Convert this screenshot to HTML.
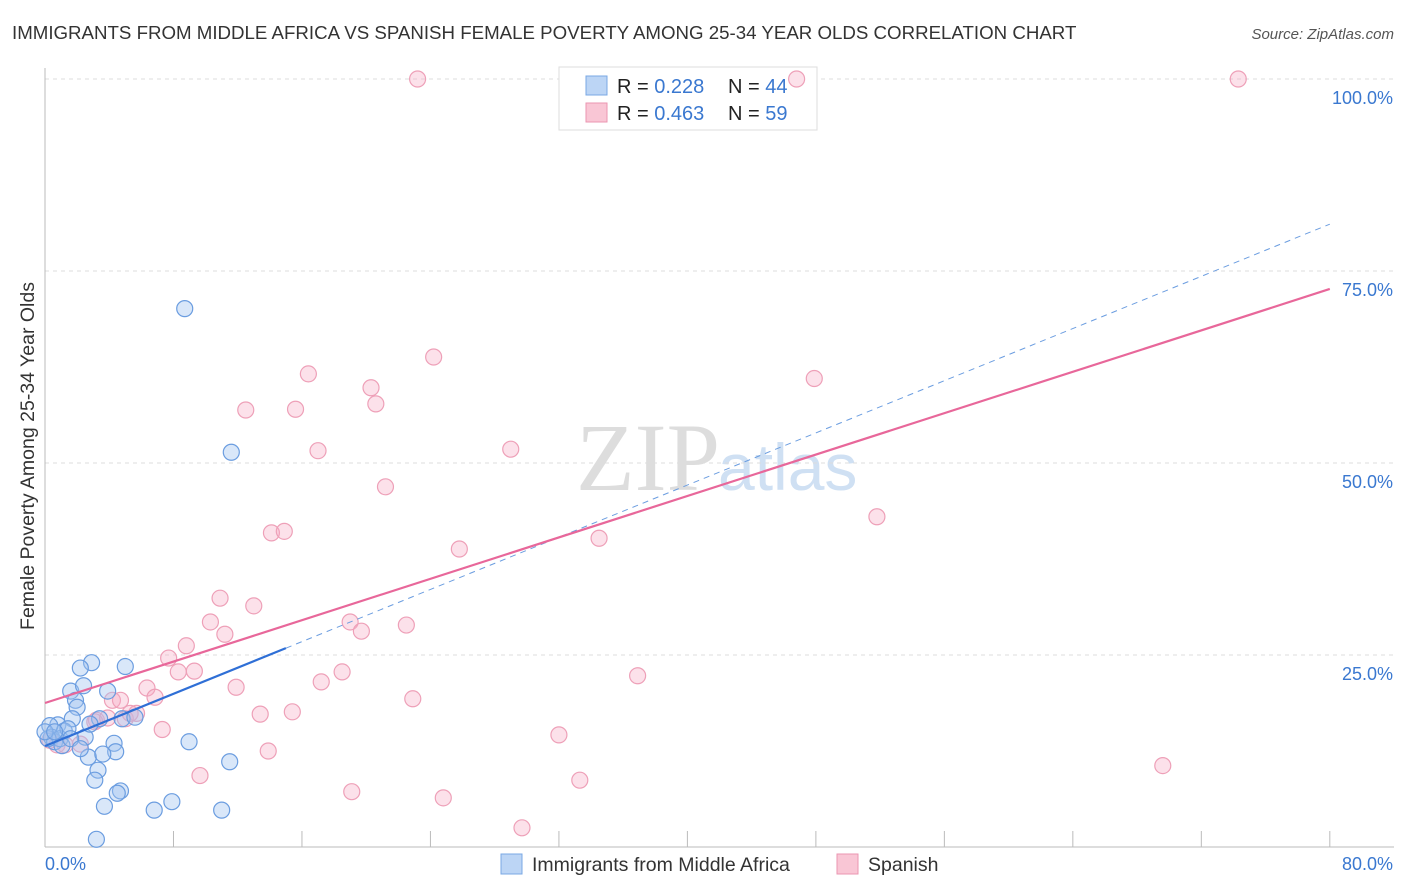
<!DOCTYPE html>
<html><head><meta charset="utf-8"><style>
body{margin:0;background:#fff;font-family:"Liberation Sans",sans-serif;}
#c{position:absolute;left:0;top:0;width:1406px;height:892px;}
</style></head><body>
<svg id="c" width="1406" height="892">
<text x="12" y="39" font-size="18.7" fill="#333">IMMIGRANTS FROM MIDDLE AFRICA VS SPANISH FEMALE POVERTY AMONG 25-34 YEAR OLDS CORRELATION CHART</text>
<text x="1394" y="39" font-size="15" fill="#555" font-style="italic" text-anchor="end">Source: ZipAtlas.com</text>
<text x="720" y="490" font-size="96" fill="#ddd" text-anchor="end" font-family="Liberation Serif,serif">ZIP</text>
<text x="718" y="490" font-size="66" fill="#cfe0f3">atlas</text>
<text transform="translate(34,456) rotate(-90)" font-size="19.5" fill="#333" text-anchor="middle">Female Poverty Among 25-34 Year Olds</text>
<g id="grid"></g>
<g>
<rect x="559" y="67" width="258" height="63" fill="#fff" stroke="#ddd"/>
<rect x="586" y="76" width="21" height="19" fill="#bcd5f5" stroke="#7aa8e4"/>
<rect x="586" y="103" width="21" height="19" fill="#f9c6d5" stroke="#eb96b1"/>
<text x="617" y="93" font-size="20" fill="#222">R = <tspan fill="#3a78d0">0.228</tspan></text>
<text x="728" y="93" font-size="20" fill="#222">N = <tspan fill="#3a78d0">44</tspan></text>
<text x="617" y="120" font-size="20" fill="#222">R = <tspan fill="#3a78d0">0.463</tspan></text>
<text x="728" y="120" font-size="20" fill="#222">N = <tspan fill="#3a78d0">59</tspan></text>
</g>
<g id="pts"></g><g id="lines"></g>
<g>
<rect x="501" y="854" width="21" height="20" fill="#bcd5f5" stroke="#7aa8e4"/>
<text x="532" y="871" font-size="19.5" fill="#333">Immigrants from Middle Africa</text>
<rect x="837" y="854" width="21" height="20" fill="#f9c6d5" stroke="#eb96b1"/>
<text x="868" y="871" font-size="19.5" fill="#333">Spanish</text>
</g>
</svg>
<script>
const yTicks=[25,50,75,100];
const xTickLabels=["0.0%","80.0%"];
const blueX=[8.7,11.6,2.9,5.0,2.2,1.6,2.4,3.9,1.9,2.0,1.7,3.4,4.8,5.6,0.8,1.2,0.3,0.4,0.6,2.5,4.3,4.4,2.7,3.6,3.3,3.1,4.7,4.5,3.7,6.8,7.9,11.0,11.5,8.97,3.2,0.93,0.19,1.06,1.43,2.8,0.0,0.6,1.6,2.2];
const blueY=[70.1,51.4,24.0,23.5,23.3,20.3,21.0,20.3,19.1,18.2,16.7,16.7,16.7,16.9,15.9,15.1,15.8,14.3,13.7,14.3,13.5,12.4,11.7,12.1,10.0,8.7,7.3,7.0,5.3,4.8,5.9,4.8,11.1,13.7,1.0,14.1,14.1,13.2,15.4,16.0,15.0,15.0,14.1,12.8];
const pinkX=[23.2,46.8,74.3,24.2,16.4,20.3,20.6,12.5,15.6,17.0,29.0,21.2,47.9,51.8,14.1,14.9,34.5,25.8,10.9,13.0,10.3,11.2,8.8,19.0,19.7,22.5,7.7,8.3,9.3,18.5,17.2,11.9,6.35,36.9,6.85,4.2,4.7,22.9,13.4,15.4,3.2,5.0,5.7,7.3,13.9,32.0,9.65,33.3,19.1,24.8,29.7,69.6,0.75,0.3,1.25,2.2,3.1,5.3,3.9];
const pinkY=[100,100,100,63.8,61.6,59.8,57.7,56.9,57.0,51.6,51.8,46.9,61.0,43.0,40.9,41.1,40.2,38.8,32.4,31.4,29.3,27.7,26.2,29.3,28.1,28.9,24.6,22.8,22.9,22.8,21.5,20.8,20.7,22.3,19.5,19.1,19.1,19.3,17.3,17.6,16.5,16.7,17.4,15.3,12.5,14.6,9.3,8.7,7.2,6.4,2.5,10.6,13.3,13.9,13.3,13.4,16.3,17.4,16.8];
const blueLine=[13.15,81.1], pinkLine=[18.75,72.66];
const X=v=>45+v*16.06, Y=v=>847-v*7.68;
const NS="http://www.w3.org/2000/svg";
function mk(t,a,p){const e=document.createElementNS(NS,t);for(const k in a)e.setAttribute(k,a[k]);p.appendChild(e);return e;}
const g=document.getElementById('grid');
for(const t of yTicks){const l=mk('line',{x1:45,x2:1394,y1:Y(t),y2:Y(t),stroke:'#ddd','stroke-dasharray':'4,4'},g);


const tx=mk('text',{x:1393,y:Y(t)+25,'font-size':18,fill:'#3a78d0','text-anchor':'end'},g);tx.textContent=t.toFixed(1)+'%';

}
const ax=mk('line',{x1:45,x2:45,y1:68,y2:847,stroke:'#bbb'},g);


const bx=mk('line',{x1:45,x2:1394,y1:847,y2:847,stroke:'#bbb'},g);


for(let i=1;i<=10;i++){const tk=mk('line',{x1:X(i*8),x2:X(i*8),y1:831,y2:847,stroke:'#bbb'},g);

}
xTickLabels.forEach((s,i)=>{const t=mk('text',{x:i?1393:45,y:870,'font-size':18,fill:'#3a78d0','text-anchor':i?'end':'start'},g);t.textContent=s;

});
const p=document.getElementById('pts');
pinkX.forEach((x,i)=>{const c=mk('circle',{cx:X(x),cy:Y(pinkY[i]),r:8,fill:'rgba(246,170,195,0.35)',stroke:'#eea0b8','stroke-width':1.2},p);

});
blueX.forEach((x,i)=>{const c=mk('circle',{cx:X(x),cy:Y(blueY[i]),r:8,fill:'rgba(160,195,240,0.4)',stroke:'#6b9de0','stroke-width':1.2},p);

});
const L=document.getElementById('lines');
const bv=x=>blueLine[0]+(blueLine[1]-blueLine[0])*x/80, pv=x=>pinkLine[0]+(pinkLine[1]-pinkLine[0])*x/80;
const bd=mk('line',{x1:X(15),y1:Y(bv(15)),x2:X(80),y2:Y(bv(80)),stroke:'#6b9de0','stroke-width':1,'stroke-dasharray':'6,5'},L);


const pl=mk('line',{x1:X(0),y1:Y(pv(0)),x2:X(80),y2:Y(pv(80)),stroke:'#e8679a','stroke-width':2.2},L);


const bl=mk('line',{x1:X(0),y1:Y(bv(0)),x2:X(15),y2:Y(bv(15)),stroke:'#2f6fd6','stroke-width':2.2},L);


</script>
</body></html>
